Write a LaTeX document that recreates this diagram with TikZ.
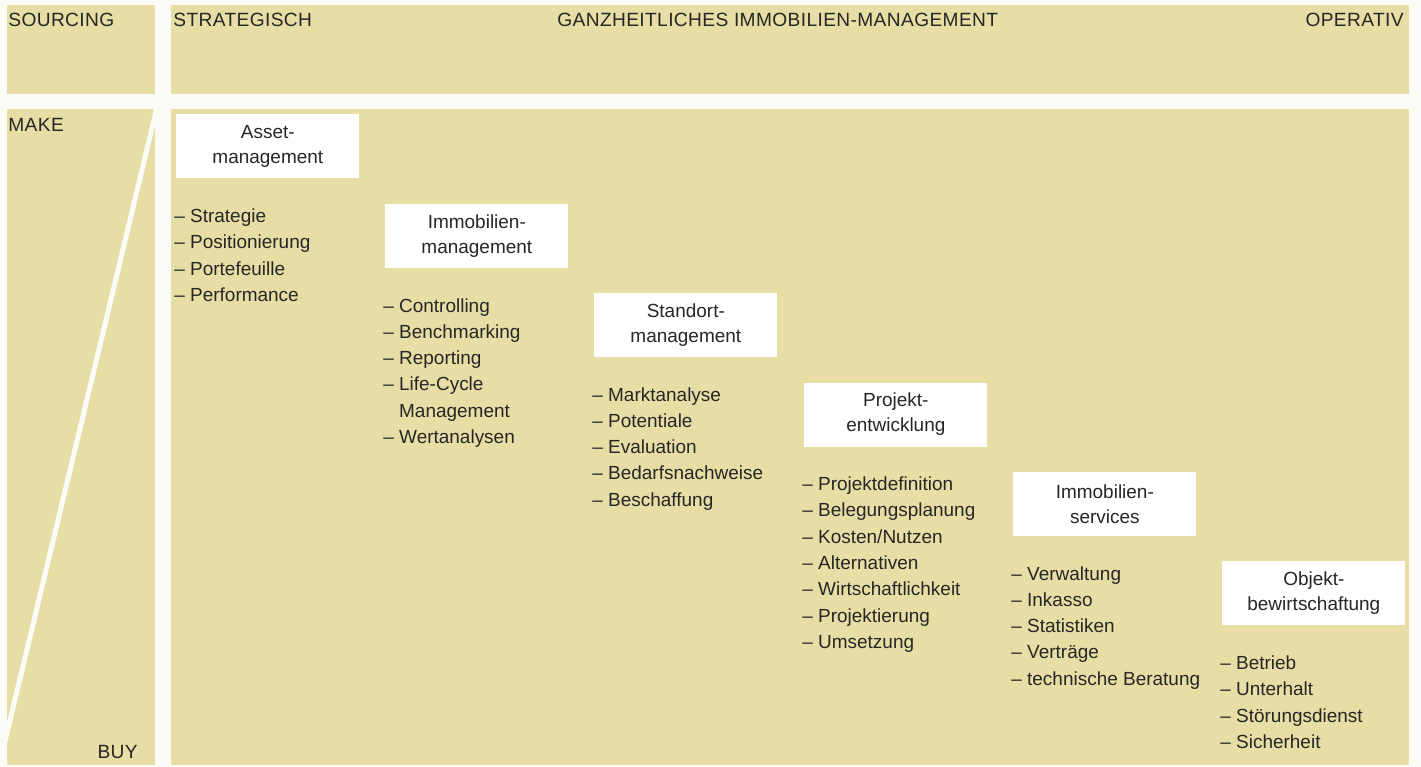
\documentclass[tikz,border=0pt]{standalone}
\usepackage{fontspec}
\setmainfont{Liberation Sans}
\usetikzlibrary{positioning}
\definecolor{sand}{RGB}{231,222,165}
\definecolor{paper}{RGB}{252,252,247}
\definecolor{ink}{RGB}{38,38,38}

\begin{document}
\begin{tikzpicture}[x=0.02cm, y=-0.02cm, font=\fontsize{10.8}{14.2}\selectfont, text=ink,
    panel/.style={fill=sand},
    head/.style={inner sep=0pt, font=\fontsize{10.9}{14.2}\selectfont\addfontfeature{LetterSpace=2}},
    card/.style={fill=white, align=center, minimum width=3.66cm, minimum height=1.28cm, inner sep=0pt, anchor=north west},
    item/.style={inner sep=0pt, anchor=base west},
  ]
  \fill[paper] (0,0) rectangle (1421,767);
  \useasboundingbox (0,0) rectangle (1421,767);

  % Panels
  \fill[panel] (7,5) rectangle (155,94);
  \fill[panel] (171,5) rectangle (1409,94);
  \fill[panel] (7,109) rectangle (155,765);
  \fill[panel] (171,109) rectangle (1409,765);

  % Make/buy divider
  \draw[paper, line width=0.1cm] (157.6,105) -- (4.1,745);

  % Headings
  \node[head, anchor=base west] (sourcing) at (8,27) {SOURCING};
  \node[head, anchor=base west] (strategic) at (173,27) {STRATEGISCH};
  \node[head, anchor=base west] (holistic) at (557,27) {GANZHEITLICHES IMMOBILIEN-MANAGEMENT};
  \node[head, anchor=base east] (operative) at (1404,27) {OPERATIV};
  \node[head, anchor=base west] (make) at (8,132) {MAKE};
  \node[head, anchor=base east] (buy) at (138,758) {BUY};

  % Assetmanagement
  \node[card] (asset) at (176,114) {Asset-\\management};
  \foreach \i/\t in {0/Strategie, 1/Positionierung, 2/Portefeuille, 3/Performance} {
    \node[item] (asset\i) at (174, 222.5+\i*26.3) {-- \t};
  }

  % Immobilienmanagement
  \node[card] (immo) at (385,203.4) {Immobilien-\\management};
  \foreach \i/\t in {0/Controlling, 1/Benchmarking, 2/Reporting, 3/Life-Cycle, 5/Wertanalysen} {
    \node[item] (immo\i) at (383, 312+\i*26.3) {-- \t};
  }
  \node[item] (immo4) at (383, 312+4*26.3) {\phantom{-- }Management};

  % Standortmanagement
  \node[card] (site) at (594,292.8) {Standort-\\management};
  \foreach \i/\t in {0/Marktanalyse, 1/Potentiale, 2/Evaluation, 3/Bedarfsnachweise, 4/Beschaffung} {
    \node[item] (site\i) at (592, 401+\i*26.3) {-- \t};
  }

  % Projektentwicklung
  \node[card] (project) at (804,382.2) {Projekt-\\entwicklung};
  \foreach \i/\t in {0/Projektdefinition, 1/Belegungsplanung, 2/Kosten\slash Nutzen, 3/Alternativen,
      4/Wirtschaftlichkeit, 5/Projektierung, 6/Umsetzung} {
    \node[item] (project\i) at (802, 490.5+\i*26.3) {-- \t};
  }

  % Immobilienservices
  \node[card] (service) at (1013,471.6) {Immobilien-\\services};
  \foreach \i/\t in {0/Verwaltung, 1/Inkasso, 2/Statistiken, 3/Verträge, 4/technische Beratung} {
    \node[item] (service\i) at (1011, 580+\i*26.3) {-- \t};
  }

  % Objektbewirtschaftung
  \node[card] (facility) at (1222,561) {Objekt-\\bewirtschaftung};
  \foreach \i/\t in {0/Betrieb, 1/Unterhalt, 2/Störungsdienst, 3/Sicherheit} {
    \node[item] (facility\i) at (1220, 669.5+\i*26.3) {-- \t};
  }
\end{tikzpicture}
\end{document}
